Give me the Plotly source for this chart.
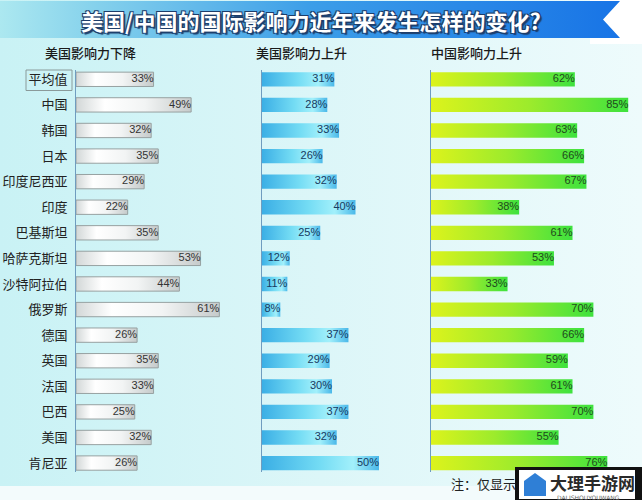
import plotly.graph_objects as go

# data
countries = ["平均值", "中国", "韩国", "日本", "印度尼西亚", "印度", "巴基斯坦", "哈萨克斯坦",
             "沙特阿拉伯", "俄罗斯", "德国", "英国", "法国", "巴西", "美国", "肯尼亚"]
us_down = [33, 49, 32, 35, 29, 22, 35, 53, 44, 61, 26, 35, 33, 25, 32, 26]
us_up = [31, 28, 33, 26, 32, 40, 25, 12, 11, 8, 37, 29, 30, 37, 32, 50]
cn_up = [62, 85, 63, 66, 67, 38, 61, 53, 33, 70, 66, 59, 61, 70, 55, 76]
panel_titles = ["美国影响力下降", "美国影响力上升", "中国影响力上升"]
title = "美国/中国的国际影响力近年来发生怎样的变化?"
note = "注：仅显示"

W, H = 642, 500
CJK = "Noto Sans CJK SC"


def px(x):
    return x / W


def py(y):
    return 1 - y / H


fig = go.Figure()

# background drawn on a hidden full-page axis (xy is drawn first, below the panels)
fig.add_trace(go.Scatter(x=[0, W, W, 0, 0], y=[0, 0, H, H, 0], mode="lines",
                         line=dict(width=0), fill="toself",
                         fillgradient=dict(type="horizontal",
                                           colorscale=[[0, "#c9f2f5"], [0.5, "#dcf6f8"], [1, "#eefbfc"]]),
                         hoverinfo="skip", showlegend=False, xaxis="x", yaxis="y"))
fig.add_trace(go.Scatter(x=[0, W, W, 0, 0], y=[486, 486, H, H, 486], mode="lines",
                         line=dict(width=0), fill="toself", fillcolor="#f3fbfc",
                         hoverinfo="skip", showlegend=False, xaxis="x", yaxis="y"))
fig.add_trace(go.Scatter(x=[590, W, W, 590, 590], y=[0, 0, 44, 44, 0], mode="lines",
                         line=dict(width=0), fill="toself", fillcolor="#ffffff",
                         hoverinfo="skip", showlegend=False, xaxis="x", yaxis="y"))
# title ribbon with notch on the right
fig.add_trace(go.Scatter(x=[0, 620, 603, 620, 0, 0], y=[1, 1, 19.5, 38, 38, 1], mode="lines",
                         line=dict(width=0), fill="toself",
                         fillgradient=dict(type="horizontal",
                                           colorscale=[[0, "#ace8f0"], [0.15, "#86d2ec"],
                                                       [0.5, "#3c9ee8"], [1, "#1874e6"]]),
                         hoverinfo="skip", showlegend=False, xaxis="x", yaxis="y"))

panels = [
    dict(vals=us_down, x0=76, x1=250, scale=2.35, xa="x2", ya="y2",
         cs=[[0, "#d2d7d7"], [0.25, "#ffffff"], [0.6, "#f2f4f4"], [1, "#c6cbcb"]],
         border="#97a1a1", bw=1, tc="#333333"),
    dict(vals=us_up, x0=261.5, x1=425, scale=2.35, xa="x3", ya="y3",
         cs=[[0, "#3aaee5"], [0.5, "#74dcf4"], [0.78, "#a2f0fb"], [1, "#4ab8e9"]],
         border="rgba(0,0,0,0)", bw=0, tc="#173a60"),
    dict(vals=cn_up, x0=431, x1=642, scale=2.32, xa="x4", ya="y4",
         cs=[[0, "#dcf31c"], [0.5, "#9ceb2c"], [1, "#3ee23e"]],
         border="rgba(0,0,0,0)", bw=0, tc="#1f4a1c"),
]

h = 0.28
for p in panels:
    for i, v in enumerate(p["vals"]):
        fig.add_trace(go.Scatter(x=[0, v, v, 0, 0], y=[i - h, i - h, i + h, i + h, i - h],
                                 mode="lines", line=dict(color=p["border"], width=p["bw"]),
                                 fill="toself", fillgradient=dict(type="horizontal", colorscale=p["cs"]),
                                 hoverinfo="skip", showlegend=False, xaxis=p["xa"], yaxis=p["ya"]))
    fig.add_trace(go.Scatter(x=p["vals"], y=list(range(len(countries))), mode="text",
                             text=[f"{v}%" for v in p["vals"]], textposition="middle left",
                             textfont=dict(family="Liberation Sans", size=11, color=p["tc"]),
                             hoverinfo="skip", showlegend=False, xaxis=p["xa"], yaxis=p["ya"]))

yrange = [15.35, -0.364]
ydom = [py(472), py(70)]

layout = dict(
    width=W, height=H, margin=dict(l=0, r=0, t=0, b=0),
    paper_bgcolor="#ffffff", plot_bgcolor="rgba(0,0,0,0)", showlegend=False,
    xaxis=dict(domain=[0, 1], range=[0, W], visible=False, fixedrange=True),
    yaxis=dict(domain=[0, 1], range=[H, 0], visible=False, fixedrange=True),
)
for k, p in enumerate(panels, start=2):
    layout[f"xaxis{k}"] = dict(domain=[px(p["x0"]), px(p["x1"])],
                               range=[0, (p["x1"] - p["x0"]) / p["scale"]],
                               anchor=f"y{k}", visible=False, fixedrange=True)
    layout[f"yaxis{k}"] = dict(domain=ydom, range=yrange, anchor=f"x{k}",
                               showline=True, linecolor="#6f9cbf", linewidth=1,
                               showgrid=False, zeroline=False, ticks="",
                               tickvals=list(range(len(countries))),
                               ticktext=countries, showticklabels=(k == 2),
                               ticklabelstandoff=5,
                               tickfont=dict(family=CJK, size=13, color="#222222"),
                               fixedrange=True)
fig.update_layout(**layout)


def label(x, y, text, **font):
    return dict(x=px(x), y=py(y), text=text, showarrow=False, xref="paper", yref="paper",
                xanchor="center", yanchor="middle", font=font)


annotations = [
    label(311, 19.5, title, family=CJK, size=22, color="#ffffff", weight="bold",
          shadow="-1px -1px 0 #1d3d6a, 1px -1px 0 #1d3d6a, -1px 1px 0 #1d3d6a, 2px 2px 1px #1d3d6a"),
]
for t, cx in zip(panel_titles, [91, 301, 476]):
    annotations.append(label(cx, 53, t, family=CJK, size=13, color="#1a1a1a", weight=500))
annotations.append(label(483, 483, note, family=CJK, size=13, color="#222222"))
# watermark card at bottom right
annotations.append(label(592, 482, "大理手游网", family=CJK, size=17, color="#2a2a2a", weight="bold"))
annotations.append(label(588, 497, "DALISHOUYOUWANG", family="DejaVu Sans", size=6, color="#666666"))
fig.update_layout(annotations=annotations)

shapes = [
    # box around the average row label
    dict(type="rect", xref="paper", yref="paper", x0=px(26), x1=px(72), y0=py(90.5), y1=py(70),
         line=dict(color="#8a9a9a", width=1), fillcolor="rgba(0,0,0,0)"),
    dict(type="rect", xref="paper", yref="paper", x0=px(515), x1=px(642), y0=py(500), y1=py(467),
         line=dict(width=0), fillcolor="#111111"),
    dict(type="rect", xref="paper", yref="paper", x0=px(519), x1=px(635), y0=py(499), y1=py(470),
         line=dict(width=0), fillcolor="#ffffff"),
    dict(type="path", xref="paper", yref="paper",
         path=f"M {px(524)},{py(496)} L {px(524)},{py(481)} L {px(535)},{py(473)} L {px(546)},{py(481)} "
              f"L {px(546)},{py(496)} Z",
         line=dict(width=0), fillcolor="#2f7fd6"),
]
fig.update_layout(shapes=shapes)

# page body has an 8px default margin; remove it so the figure fills the window
fig.write_html("out.html", config={"displayModeBar": False},
               post_script="document.body.style.margin='0';")
